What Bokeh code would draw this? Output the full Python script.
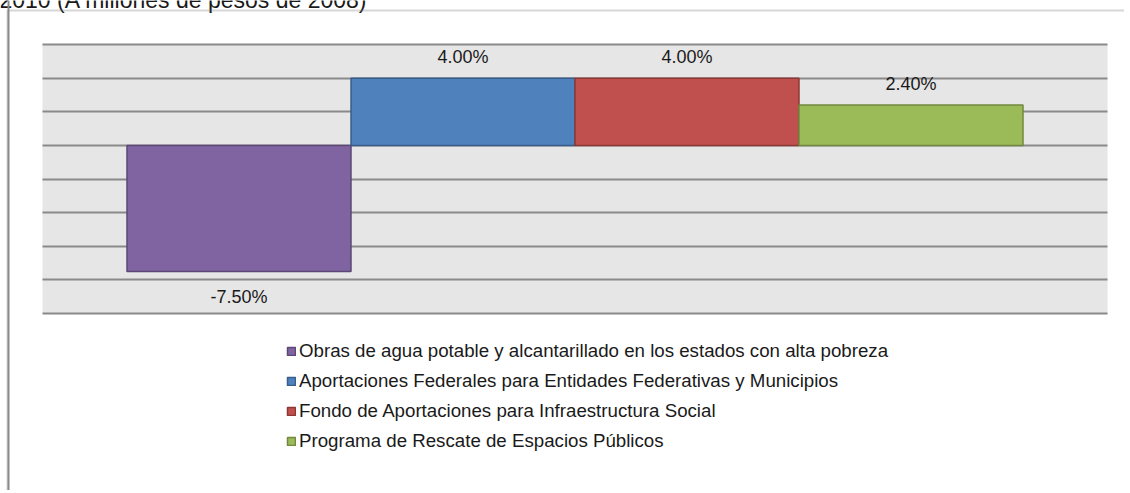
from bokeh.plotting import figure
from bokeh.models import (ColumnDataSource, Range1d, SingleIntervalTicker, LabelSet, Label,
                          Legend, LegendItem, BoxAnnotation, Span)
from bokeh.core.properties import value
from bokeh.embed import file_html
from bokeh.resources import INLINE

# ---- data ----
title_text = "2010 (A millones de pesos de 2008)"
categories = [
    "Obras de agua potable y alcantarillado en los estados con alta pobreza",
    "Aportaciones Federales para Entidades Federativas y Municipios",
    "Fondo de Aportaciones para Infraestructura Social",
    "Programa de Rescate de Espacios Públicos",
]
values = [-7.5, 4.0, 4.0, 2.4]
y_ticks = [-10, -8, -6, -4, -2, 0, 2, 4, 6]
fill_colors = ["#8064A2", "#4F81BD", "#C0504D", "#9BBB59"]
line_colors = ["#5C4776", "#385D8A", "#8C3836", "#71893F"]

FONT = "Arial"

# ---- layout (pixels) ----
W, H = 1124, 490
PL, PR, PT, PB = 42, 1107, 44, 313      # plot area in canvas pixels
pad = 0.3772                              # category padding on each side
n = len(categories)
YMIN, YMAX = min(y_ticks), max(y_ticks)

pxx = (PR - PL) / (n + 2 * pad)
x0 = -0.5 - pad - PL / pxx
pxy = (PB - PT) / (YMAX - YMIN)
y1 = YMAX + PT / pxy
y0 = YMIN - (H - PB) / pxy

xs = list(range(n))
labels = [f"{v:.2f}%" for v in values]
offsets = [21 if v >= 0 else -26 for v in values]

src = ColumnDataSource(dict(x=xs, top=values, cat=categories, fill=fill_colors,
                            line=line_colors, label=labels, yoff=offsets))

p = figure(width=W, height=H,
           x_range=Range1d(x0, x0 + W / pxx),
           y_range=Range1d(y0, y1),
           output_backend="svg", toolbar_location=None,
           min_border=0)

p.xaxis.visible = False
p.yaxis.visible = False
p.xgrid.visible = False
p.background_fill_color = "white"
p.border_fill_color = "white"
p.outline_line_color = None

# plot area background
bg = BoxAnnotation(left=-0.5 - pad, right=n - 0.5 + pad, bottom=YMIN, top=YMAX,
                   fill_color="#E6E6E6", fill_alpha=1, line_color=None, level="image")
p.add_layout(bg)

# horizontal grid lines limited to the plot area
grid_ok = False
try:
    p.ygrid.ticker = SingleIntervalTicker(interval=2)
    p.ygrid.bounds = (YMIN, YMAX)
    p.ygrid.cross_bounds = (-0.5 - pad, n - 0.5 + pad)
    p.ygrid.grid_line_color = "#8A8A8A"
    p.ygrid.grid_line_width = 2
    grid_ok = True
except Exception:
    grid_ok = False
if not grid_ok:
    p.ygrid.visible = False
    gsrc = ColumnDataSource(dict(y=y_ticks))
    p.segment(x0=-0.5 - pad, x1=n - 0.5 + pad, y0="y", y1="y", source=gsrc,
              line_color="#8A8A8A", line_width=2, level="underlay")

r = p.vbar(x="x", top="top", bottom=0, width=1.0, source=src,
           fill_color="fill", line_color="line", line_width=1.5)

lbls = LabelSet(x="x", y="top", text="label", y_offset="yoff", source=src,
                text_align="center", text_baseline="middle",
                text_font=value(FONT), text_font_size=value("18px"), text_color=value("#1a1a1a"))
p.add_layout(lbls)

legend = Legend(items=[LegendItem(label=c, renderers=[r], index=i) for i, c in enumerate(categories)],
                location=(286, H - 456), orientation="vertical",
                glyph_width=10, glyph_height=10, label_height=30, spacing=0,
                padding=0, margin=0, label_standoff=3,
                label_text_font=FONT, label_text_font_size="18.7px", label_text_color="#1a1a1a",
                border_line_color=None, background_fill_alpha=0)
p.add_layout(legend, "center")

title = Label(x=-1, y=H + 1, x_units="screen", y_units="screen", text=title_text,
              text_font=FONT, text_font_size="23px", text_color="#1a1a1a",
              text_baseline="alphabetic")
p.add_layout(title)

# outer chart border (top and left edges)
outer = BoxAnnotation(left=7, right=W + 5, top=H - 10, bottom=-5,
                      left_units="screen", right_units="screen",
                      top_units="screen", bottom_units="screen",
                      fill_alpha=0, line_color="#7A7A7A", line_width=2)
p.add_layout(outer)
left_edge = Span(location=8, location_units="screen", dimension="height",
                 line_color="#8A8A8A", line_width=2)
p.add_layout(left_edge)

open("out.html", "w").write(file_html(p, INLINE))
